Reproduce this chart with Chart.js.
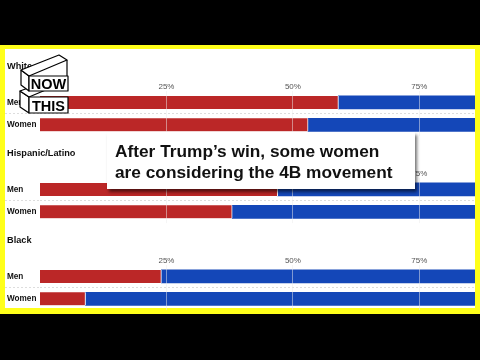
<!DOCTYPE html>
<html>
<head>
<meta charset="utf-8">
<script src="https://cdn.jsdelivr.net/npm/chart.js@4"></script>
<style>
  html, body { margin:0; padding:0; background:#000; width:480px; height:360px; overflow:hidden; }
  #frame { position:absolute; left:0; top:45px; width:480px; height:269px; background:#ffff1a; }
  #panel { position:absolute; left:5px; top:49px; width:470px; height:259px; background:#fff; }
  canvas.grp { position:absolute; left:5px; }
  #headline { position:absolute; left:107px; top:132px; width:308px; height:57px; background:#fff;
    box-shadow: 2px 3px 3px rgba(0,0,0,0.55); box-sizing:border-box; padding:9px 0 0 8px;
    font-family:"Liberation Sans", Arial, sans-serif; font-weight:bold; font-size:17.3px; line-height:21px; color:#111; white-space:nowrap; }
  #logo { position:absolute; left:0; top:0; }
</style>
</head>
<body>
<div id="frame"></div>
<div id="panel"></div>
<canvas id="c0" class="grp" width="470" height="83" style="top:61px"></canvas>
<canvas id="c1" class="grp" width="470" height="83" style="top:148px"></canvas>
<canvas id="c2" class="grp" width="470" height="83" style="top:235px"></canvas>
<svg id="logo" width="480" height="360" xmlns="http://www.w3.org/2000/svg">
  <g fill="#fff" stroke="#000" stroke-width="1.2" stroke-linejoin="round">
    <polygon points="20,91 29,97 29,113 20,107"/>
    <polygon points="20,91 58,77 67,81 29,97"/>
    <rect x="29" y="97" width="39" height="16"/>
    <polygon points="21,70 29,76 29,91 21,85"/>
    <polygon points="21,70 59,55 67,60 29,76"/>
    <line x1="67" y1="60" x2="67" y2="76"/>
    <rect x="29" y="76" width="39" height="15"/>
  </g>
  <g font-family="Liberation Sans, Arial, sans-serif" font-weight="bold" font-size="14.5" fill="#000" text-anchor="middle">
    <text x="48.5" y="89">NOW</text>
    <text x="48.5" y="110.5">THIS</text>
  </g>
</svg>
<div id="headline">After Trump’s win, some women<br>are considering the 4B movement</div>
<script>
const groups = ['White', 'Hispanic/Latino', 'Black'];
const rows = ['Men', 'Women'];
const trumpMen = [59, 47, 24];
const trumpWomen = [53, 38, 9];
const harrisMen = [38, 51, 74];
const harrisWomen = [45, 60, 89];
const tickValues = [25, 50, 75];

const RED = '#bb2727';
const BLUE = '#1447b8';
const FONT = '"Liberation Sans", Arial, sans-serif';

groups.forEach((g, i) => {
  new Chart(document.getElementById('c' + i), {
    type: 'bar',
    data: {
      labels: rows,
      datasets: [
        { label: 'Trump', data: [trumpMen[i], trumpWomen[i]], backgroundColor: RED,
          borderColor: '#fff', borderWidth: { top: 0, right: 1, bottom: 0, left: 0 }, borderSkipped: false, barThickness: 13 },
        { label: 'Harris', data: [harrisMen[i], harrisWomen[i]], backgroundColor: BLUE,
          borderWidth: 0, barThickness: 13 }
      ]
    },
    options: {
      indexAxis: 'y',
      responsive: false,
      animation: false,
      layout: { padding: { left: 2, right: 0, top: 0, bottom: 0 } },
      plugins: {
        legend: { display: false },
        tooltip: { enabled: false },
        title: { display: true, text: g, align: 'start', color: '#111',
          font: { family: FONT, size: 9.2, weight: 'bold' }, padding: { top: 0, bottom: 9.5 } }
      },
      scales: {
        x: {
          position: 'top', stacked: true, min: 0, max: 86,
          afterBuildTicks: (s) => { s.ticks = tickValues.map(v => ({ value: v })); },
          ticks: { padding: 0, color: '#555', font: { family: FONT, size: 8 }, callback: (v) => v + '%' },
          grid: { drawTicks: false, color: 'rgba(235,235,235,0.5)', z: 1 },
          border: { display: false }
        },
        y: {
          stacked: true,
          afterFit: (s) => { s.width = 33; },
          ticks: { crossAlign: 'far', color: '#111', font: { family: FONT, size: 8.2, weight: 'bold' } },
          grid: { offset: true, drawTicks: true, tickLength: 35, tickColor: (c) => c.index === 1 ? '#ddd' : 'rgba(0,0,0,0)',
            tickBorderDash: [2, 2], color: (c) => c.index === 1 ? '#ddd' : 'rgba(0,0,0,0)' },
          border: { display: false, dash: [2, 2] }
        }
      }
    }
  });
});
</script>
</body>
</html>
